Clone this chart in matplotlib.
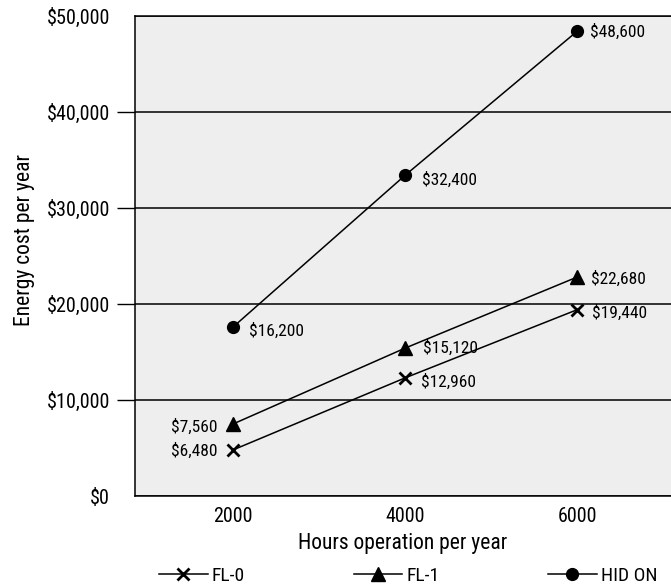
import matplotlib
matplotlib.use('Agg')
import matplotlib.pyplot as plt
from matplotlib import font_manager

# ищем узкий шрифт, если есть
names = {f.name for f in font_manager.fontManager.ttflist}
narrow = [n for n in ['Liberation Sans Narrow', 'DejaVu Sans Condensed', 'Roboto Condensed'] if n in names]
plt.rcParams['font.family'] = narrow + ['DejaVu Sans']
plt.rcParams['font.stretch'] = 'condensed'
plt.rcParams['font.size'] = 14

# данные
hours = [2000, 4000, 6000]
fl0_cost = [4800, 12300, 19400]
fl1_cost = [7500, 15400, 22800]
hid_cost = [17600, 33400, 48400]
fl0_labels = ['$6,480', '$12,960', '$19,440']
fl1_labels = ['$7,560', '$15,120', '$22,680']
hid_labels = ['$16,200', '$32,400', '$48,600']
y_ticks = [0, 10000, 20000, 30000, 40000, 50000]
x_ticks = [2000, 4000, 6000]

fig = plt.figure(figsize=(6.71, 5.86), dpi=100)
ax = fig.add_axes([135 / 671, 90 / 586, 536 / 671, 480 / 586])
ax.set_facecolor('#eeeeee')

l0, = ax.plot(hours, fl0_cost, color='black', lw=1.1, marker='x', ms=8.5, mew=2, label='FL-0')
l1, = ax.plot(hours, fl1_cost, color='black', lw=1.1, marker='^', ms=9.5, label='FL-1')
l2, = ax.plot(hours, hid_cost, color='black', lw=1.1, marker='o', ms=8.5, label='HID ON')

# подписи точек (смещения в пикселях)
offsets = {
    'fl0': [(-16, -1, 'right'), (16, -4, 'left'), (15, -3, 'left')],
    'fl1': [(-16, -3, 'right'), (18, 0, 'left'), (14, -2, 'left')],
    'hid': [(16, -4, 'left'), (17, -4, 'left'), (13, 0, 'left')],
}
for key, ys, labs in [('fl0', fl0_cost, fl0_labels), ('fl1', fl1_cost, fl1_labels), ('hid', hid_cost, hid_labels)]:
    for x, y, t, (dx, dy, ha) in zip(hours, ys, labs, offsets[key]):
        ax.annotate(t, (x, y), xytext=(dx, dy), textcoords='offset pixels',
                    ha=ha, va='center', fontsize=12.5)

ax.set_xlim(860, 7093)
ax.set_ylim(0, 50000)
ax.set_yticks(y_ticks)
ax.set_yticklabels(['${:,}'.format(v) for v in y_ticks])
ax.set_xticks(x_ticks)
ax.set_xticklabels([str(v) for v in x_ticks])
ax.tick_params(axis='y', length=13, width=1.0, pad=5, labelsize=14.5)
ax.tick_params(axis='x', length=0, pad=8, labelsize=14.5)
ticks = ax.yaxis.get_major_ticks()
ticks[0].tick1line.set_visible(False)
ticks[-1].tick1line.set_visible(False)

ax.grid(axis='y', color='black', lw=1.1)
ax.set_axisbelow(True)
ax.spines['right'].set_visible(False)
for s in ['top', 'left', 'bottom']:
    ax.spines[s].set_linewidth(1.1)

ax.set_xlabel('Hours operation per year', fontsize=15.5)
ax.xaxis.set_label_coords(0.5, -0.077)
ax.xaxis.label.set_va('top')
ax.set_ylabel('Energy cost per year', fontsize=15.5)
ax.yaxis.set_label_coords(-0.187, 0.533)

fig.legend(handles=[l0, l1, l2], loc='center', bbox_to_anchor=(408 / 671, 10 / 586),
           ncol=3, frameon=False, handlelength=2.5, handletextpad=0.2,
           columnspacing=5.6, fontsize=14)

fig.savefig('out.png', dpi=100)
